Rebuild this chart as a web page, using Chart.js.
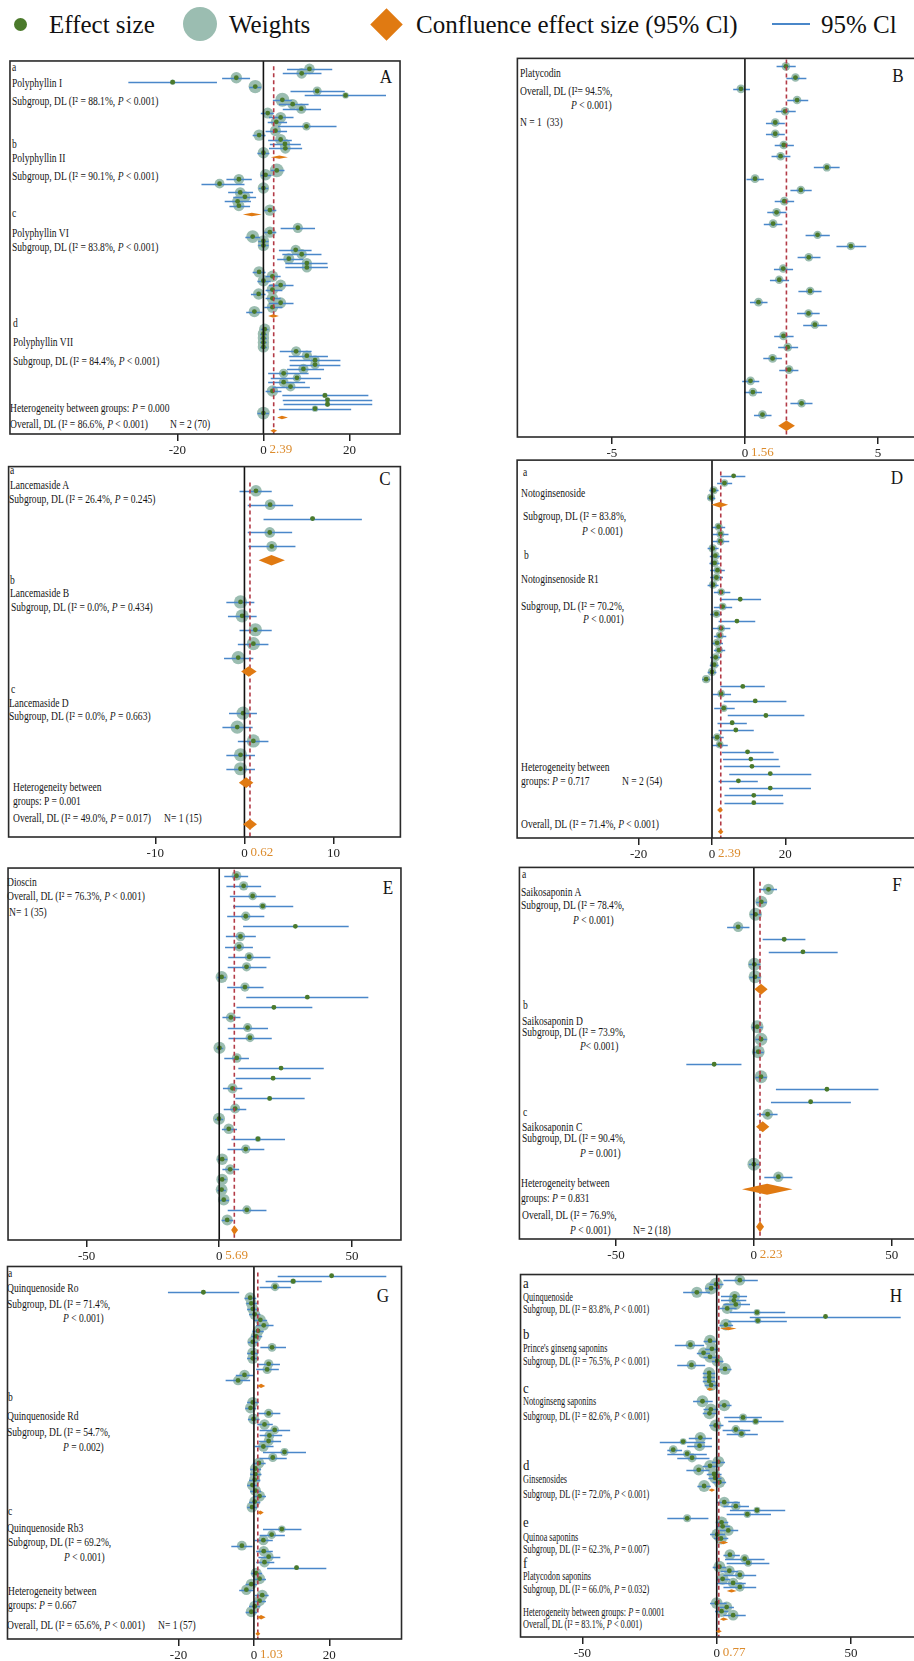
<!DOCTYPE html>
<html>
<head>
<meta charset="utf-8">
<script src="https://cdn.jsdelivr.net/npm/chart.js@4.4.0/dist/chart.umd.min.js"></script>
<style>
  html, body { margin: 0; padding: 0; background: #fff; overflow: hidden; }
  #page { position: relative; width: 914px; height: 1661px; overflow: hidden; background: #fff; }
  canvas.panel { position: absolute; }
  .t { position: absolute; font-family: 'Liberation Serif', 'Times New Roman', serif; font-size: 12.5px;
       line-height: 1; color: #151515; white-space: nowrap; transform-origin: 0 50%;
       transform: translateY(-50%) scaleX(0.765); }
  .t.h { transform: translateY(-50%) scaleX(0.66); }
  .t.hl { font-size: 15px; transform: translateY(-50%) scaleX(0.85); }
  .t.L { font-size: 19px; transform: translate(-50%, -50%) scaleX(0.9); transform-origin: 50% 50%; }
  .leg { position: absolute; font-family: 'Liberation Serif', 'Times New Roman', serif; font-size: 25px;
         line-height: 1; color: #111; white-space: nowrap; transform: translateY(-50%); }
  .sym { position: absolute; }
</style>
</head>
<body>
<div id="page"></div>
<script>
// ---------- Panel A: Polyphyllin I / II / VI / VII ----------
const A_groups = [20, 10, 20, 20];
const A_est = [10.7,8.9,-6.3,-21.1,-1.9,12.5,19.1,4.4,6.8,8.8,1.0,4.0,3.0,10.0,2.8,-1.0,4.0,5.0,5.1,0.0,
  3.1,0.5,-5.7,-10.2,0.0,-5.4,-4.3,-6.0,-5.7,1.5,
  8.0,1.5,-2.5,0.0,0.0,7.5,8.9,5.9,10.1,10.1,-1.0,2.1,0.0,4.0,2.1,-1.1,2.1,4.0,2.1,-2.1,
  0.3,0.0,0.0,0.0,0.0,7.6,10.1,12.0,12.0,9.3,4.7,7.8,4.7,6.3,2.1,14.3,14.9,14.9,12.0,0.0];
const A_lo = [5.5,4.5,-9.6,-31.4,-3.3,6.3,9.6,2.2,3.6,4.5,-0.6,1.3,1.0,3.4,0.5,-2.5,1.1,1.5,1.3,-1.4,
  1.7,-0.6,-8.6,-14.4,-1.1,-8.2,-7.0,-9.0,-7.9,0.2,
  4.0,0.2,-4.2,-1.2,-1.2,3.6,4.4,3.2,5.1,5.1,-2.5,0.5,-1.4,1.3,0.5,-2.9,0.5,1.3,0.2,-4.0,
  -0.6,-0.8,-0.8,-0.8,-0.8,3.8,5.9,6.1,6.1,5.5,1.1,1.7,1.1,2.1,0.5,4.4,4.5,4.7,3.6,-1.4];
const A_hi = [16.0,13.5,-3.1,-10.8,-0.5,18.9,28.5,6.6,10.5,13.4,2.4,7.0,5.5,17.0,5.5,0.5,6.6,8.7,9.0,1.4,
  4.9,1.9,-2.7,-4.4,1.1,-2.4,-1.7,-2.9,-3.1,3.0,
  12.0,3.0,-0.8,1.2,1.2,11.2,13.5,9.3,14.9,15.0,0.5,4.0,1.7,7.0,4.4,0.5,4.0,7.0,4.4,-0.2,
  1.2,0.8,0.8,0.8,0.8,11.2,15.0,17.9,17.9,14.1,10.5,13.4,9.7,10.8,4.2,24.4,25.3,25.3,20.4,1.3];
const A_w = [1.4,1.4,1.6,0.35,2.2,1.0,0.5,2.4,1.4,1.3,1.5,1.5,1.5,0.9,1.5,1.6,1.5,1.4,1.4,1.6,
  2.4,1.6,1.4,1.2,1.6,1.4,1.5,1.5,1.5,1.6,
  1.3,1.6,2.0,1.6,1.6,1.3,1.3,1.5,1.3,1.3,1.6,1.6,1.6,1.5,1.6,1.6,1.6,1.5,1.6,1.6,
  1.6,1.6,1.6,1.6,1.6,1.3,1.3,1.1,1.1,1.3,1.1,0.9,1.2,1.2,1.6,0.35,0.35,0.35,0.5,2.0];
const A_subEst = [3.7, -2.7, 2.3, 4.3];
const A_subLo = [1.7, -4.8, 1.1, 3.2];
const A_subHi = [5.7, -0.4, 3.6, 5.7];
const A_pooled = [2.39, 1.6, 3.2];
const A_ticks = [-20, 0, 20];

// ---------- Panel B: Platycodin ----------
const B_groups = [32];
const B_est = [1.54,1.90,-0.15,1.96,1.51,1.14,1.14,1.46,1.34,3.08,0.38,2.10,1.48,1.19,1.06,2.73,
  3.98,2.40,1.44,1.29,2.45,0.51,2.39,2.63,1.45,1.61,1.04,1.66,0.21,0.30,2.13,0.66];
const B_lo = [1.19,1.56,-0.44,1.59,1.16,0.79,0.79,1.12,1.00,2.59,0.06,1.71,1.12,0.84,0.71,2.28,
  3.44,1.98,1.09,0.94,2.01,0.19,1.96,2.19,1.10,1.25,0.69,1.29,-0.10,-0.03,1.71,0.34];
const B_hi = [1.91,2.31,0.19,2.38,1.91,1.50,1.50,1.84,1.71,3.56,0.71,2.51,1.85,1.56,1.41,3.19,
  4.56,2.84,1.81,1.66,2.88,0.85,2.81,3.09,1.83,2.00,1.39,2.01,0.54,0.64,2.54,1.00];
const B_w = [3.1,3.0,3.2,3.0,3.1,3.1,3.1,3.1,3.1,2.9,3.2,3.0,3.1,3.1,3.1,2.9,
  2.8,3.0,3.1,3.1,3.0,3.2,3.0,2.9,3.1,3.1,3.2,3.1,3.2,3.2,3.0,3.2];
const B_subEst = [], B_subLo = [], B_subHi = [];
const B_pooled = [1.56, 1.25, 1.88];
const B_ticks = [-5, 0, 5];

// ---------- Panel C: Lancemaside A / B / D ----------
const C_groups = [5, 5, 5];
const C_est = [1.29,2.88,7.64,2.84,3.06, -0.44,-0.26,1.22,1.00,-0.70, -0.15,-0.81,1.00,-0.44,-0.44];
const C_lo = [-0.55,0.37,2.14,0.37,0.44, -2.03,-1.85,-0.55,-0.74,-2.29, -1.73,-2.47,-0.74,-2.03,-2.03];
const C_hi = [3.06,5.46,13.17,5.35,5.72, 1.11,1.37,3.06,2.69,1.00, 1.40,0.92,2.69,1.18,1.18];
const C_w = [7,6,1.2,6,6, 9,9,9,9,9, 9,9,9,9,9];
const C_subEst = [3.03, 0.48, 0.18];
const C_subLo = [1.59, -0.37, -0.63];
const C_subHi = [4.54, 1.37, 1.00];
const C_pooled = [0.62, -0.16, 1.40];
const C_ticks = [-10, 0, 10];

// ---------- Panel D: Notoginsenoside / Notoginsenoside R1 ----------
const D_groups = [4, 39];
const D_est = [5.9,3.4,0.45,-0.27,
  1.8,2.3,2.3,0.2,0.9,0.7,1.5,1.2,0.3,2.5, 7.7,2.9,1.2,6.8,2.5,2.1,1.4,1.9,1.0,0.6,
  0.0,-1.6,8.4,2.5,11.8,3.2,14.7,5.5,6.5,1.4, 2.1,9.7,10.6,10.9,15.9,7.2,15.9,11.4,11.4];
const D_lo = [2.3,1.4,-0.7,-1.2,
  0.0,0.2,0.2,-1.2,-0.6,-0.7,-0.5,-0.5,-1.2,0.5, 2.1,0.5,-0.5,1.8,0.2,0.5,0.0,0.5,-0.5,-0.6,
  -1.2,-2.7,2.3,0.2,3.2,0.6,4.3,1.5,1.8,-0.2, 0.0,2.7,3.0,3.2,4.7,1.8,4.7,3.4,3.4];
const D_hi = [9.1,5.5,1.8,0.9,
  3.6,4.5,4.7,1.8,2.5,2.1,3.5,3.0,1.8,5.0, 13.4,5.5,2.7,11.8,5.0,3.9,3.0,3.6,2.5,1.8,
  1.2,-0.5,14.4,5.2,20.3,6.2,25.2,9.5,11.4,3.2, 4.3,16.8,18.2,18.6,27.1,12.5,27.0,19.4,19.5];
const D_w = [0.6,2.6,3.0,3.0,
  3.0,3.0,3.0,3.2,3.2,3.2,3.0,3.0,3.2,2.8, 0.6,2.8,3.2,0.6,2.8,3.0,3.2,3.0,3.2,3.2,
  3.2,3.2,0.6,2.8,0.5,2.6,0.4,1.0,0.8,3.0, 2.8,0.6,0.5,0.5,0.4,0.6,0.4,0.5,0.5];
const D_subEst = [2.1, 2.2];
const D_subLo = [-0.2, 1.4];
const D_subHi = [4.4, 3.0];
const D_pooled = [2.39, 1.6, 3.1];
const D_ticks = [-20, 0, 20];

// ---------- Panel E: Dioscin ----------
const E_groups = [35];
const E_est = [6.5,9.2,12.6,16.4,10.0,28.7,8.0,7.5,11.3,10.3,0.9,9.7,33.2,20.6,4.4,10.7,11.6,0.1,
  6.6,23.3,20.3,5.0,19.0,6.0,-0.1,3.6,14.6,10.0,1.1,4.1,1.1,0.9,1.7,10.4,3.0];
const E_lo = [1.9,2.7,4.0,5.2,3.0,9.0,2.5,2.2,3.4,3.2,-0.7,3.0,10.2,6.5,1.2,3.2,3.5,-1.2,
  1.9,7.2,6.2,1.4,6.1,1.7,-1.6,1.0,4.6,3.1,-0.6,1.2,-0.4,-0.7,0.0,3.2,0.9];
const E_hi = [10.9,15.8,21.3,27.9,17.0,48.8,13.8,12.7,19.3,17.8,2.5,16.7,56.2,35.1,8.0,18.4,19.8,1.5,
  11.2,39.4,34.5,8.7,32.2,10.2,1.5,6.7,24.8,17.0,3.0,7.5,2.7,2.5,3.7,17.8,5.2];
const E_w = [3.2,3.0,2.5,1.8,3.0,0.5,3.2,3.3,2.8,2.9,5.0,2.9,0.4,0.8,3.5,2.8,2.7,5.0,
  3.2,0.6,0.7,3.5,0.7,3.4,5.0,3.8,1.2,2.9,4.6,3.6,4.6,4.8,4.6,2.8,4.2];
const E_subEst = [], E_subLo = [], E_subHi = [];
const E_pooled = [5.69, 4.5, 7.1];
const E_ticks = [-50, 0, 50];

// ---------- Panel F: Saikosaponin A / D / C ----------
const F_groups = [8, 8, 2];
const F_est = [5.3,2.7,0.6,-5.7,11.0,17.8,0.2,0.4, 1.2,2.6,1.6,-14.4,2.6,26.5,20.6,5.0, 0.0,8.9];
const F_lo = [2.0,0.8,-1.3,-9.7,3.2,5.4,-1.8,-1.6, -0.7,0.6,-0.4,-24.5,0.6,8.0,6.2,1.1, -1.8,3.8];
const F_hi = [8.4,4.7,2.6,-1.6,18.7,30.4,2.3,2.4, 3.2,4.7,3.6,-4.5,4.7,45.2,35.2,8.6, 1.8,14.0];
const F_w = [6.5,7.5,8.5,5.5,1.2,0.8,8.5,8.5, 8.5,8.5,8.5,1.0,8.5,0.6,0.8,6.0, 8.5,5.5];
const F_subEst = [2.6, 3.2, 4.8];
const F_subLo = [0.2, 0.8, -4.3];
const F_subHi = [5.0, 5.6, 14.0];
const F_pooled = [2.23, 0.8, 3.7];
const F_ticks = [-50, 0, 50];

// ---------- Panel G: Quinquenoside Ro / Rd / Rb3 ----------
const G_groups = [20, 20, 16];
const G_est = [20.6,10.4,5.6,-13.4,-1.0,-0.7,-0.3,0.2,1.7,2.6,1.1,0.6,-0.3,4.8,-0.3,-0.3,3.9,3.5,-2.5,-4.2,
  -0.3,-0.9,3.9,-0.1,2.8,5.5,4.1,3.9,2.5,8.1,5.0,1.3,0.4,0.4,0.2,-0.4,0.4,1.5,0.2,-0.5,
  7.4,4.7,2.5,-3.2,2.6,3.9,2.8,11.3,0.6,1.5,-0.7,-2.0,2.2,1.5,0.2,-0.7];
const G_lo = [6.3,3.1,1.5,-22.8,-2.5,-2.0,-1.8,-1.3,0.0,0.6,-0.4,-0.7,-1.6,1.7,-1.8,-1.8,0.9,0.6,-4.8,-7.5,
  -1.8,-2.3,0.9,-1.6,0.9,1.5,1.5,1.3,0.2,2.4,1.5,-0.3,-1.0,-1.0,-1.3,-1.8,-1.0,-0.1,-1.3,-1.8,
  2.4,1.5,0.2,-6.0,0.6,1.2,0.6,3.5,-0.7,-0.1,-2.2,-3.9,0.3,-0.1,-1.3,-2.2];
const G_hi = [35.1,18.0,9.8,-3.9,0.6,0.8,1.3,1.7,3.5,5.2,2.6,2.2,1.1,8.5,1.1,1.3,6.9,6.6,-0.1,-1.0,
  1.3,0.6,7.0,1.5,5.0,9.6,7.5,7.2,5.2,13.8,8.7,3.1,1.9,2.0,1.7,1.1,1.9,3.2,1.7,0.9,
  12.6,8.2,5.0,-0.4,5.0,7.0,5.4,19.2,2.2,3.2,0.8,-0.1,3.9,3.2,1.7,0.8];
const G_w = [0.3,0.6,1.4,0.4,2.2,2.2,2.2,2.2,2.2,2.0,2.2,2.2,2.2,1.4,2.2,2.2,1.6,1.6,2.0,1.8,
  2.2,2.2,1.6,2.2,2.0,1.4,1.8,1.8,2.0,1.2,1.5,2.2,2.2,2.2,2.2,2.2,2.2,2.2,2.2,2.2,
  1.0,1.4,2.0,1.8,2.0,1.8,2.0,0.4,2.2,2.2,2.2,2.0,2.2,2.2,2.2,2.2];
const G_subEst = [1.9, 1.7, 1.9];
const G_subLo = [0.8, 0.9, 0.8];
const G_subHi = [3.0, 2.6, 3.1];
const G_pooled = [1.03, 0.4, 1.7];
const G_ticks = [-20, 0, 20];

// ---------- Panel H: saponin classes a-f ----------
const H_groups = [12, 12, 22, 10, 9, 4];
const H_est = [8.6,-0.2,-2.1,-7.4,6.7,6.4,7.1,3.9,15.0,40.5,15.3,3.4,
  -2.5,-9.8,-1.8,-4.9,-2.5,0.2,-9.4,3.1,-2.8,-2.8,-2.8,-2.1,
  -5.3,2.8,-2.2,-2.7,9.8,14.5,-0.4,7.1,9.2,-6.1,-12.5,-6.4,-16.2,-11.0,-9.2,0.6,-2.5,-6.7,-1.0,-0.6,1.0,-4.7,
  2.8,7.1,15.0,11.4,-11.0,1.8,2.2,4.3,0.2,1.6,
  4.9,10.4,11.7,1.0,4.7,8.6,2.2,6.1,8.6,
  0.0,3.7,1.8,6.1];
const H_lo = [2.5,-2.7,-4.3,-12.5,1.6,1.6,2.5,1.0,4.9,12.3,4.3,1.0,
  -4.9,-15.6,-4.3,-7.4,-4.9,-1.8,-14.7,0.6,-5.2,-5.2,-5.2,-4.5,
  -8.8,0.6,-4.9,-5.2,2.8,4.3,-2.8,2.2,3.7,-10.4,-21.2,-11.0,-18.4,-18.4,-14.7,-1.8,-5.2,-11.3,-3.7,-3.1,-1.5,-7.2,
  0.0,2.5,4.9,3.7,-18.4,0.0,0.0,1.2,-2.5,-1.0,
  2.5,3.1,3.7,-1.5,1.5,2.5,0.0,0.0,2.5,
  -2.5,1.2,-0.6,2.5];
const H_hi = [15.3,2.5,0.6,-2.5,11.3,11.0,12.4,7.4,25.5,68.5,26.1,6.1,
  0.0,-4.7,1.0,-2.5,0.0,2.5,-4.3,5.5,-0.6,-0.6,-0.6,0.6,
  -1.5,5.5,0.6,0.0,16.8,24.9,2.5,12.5,15.3,-1.8,-4.3,-1.8,-12.9,-3.7,-2.7,3.1,0.6,-2.7,1.8,1.8,3.5,-2.2,
  8.6,12.0,25.5,20.2,-3.1,4.3,4.9,8.0,3.1,4.3,
  8.6,17.8,19.6,3.5,8.0,14.7,4.9,10.8,14.7,
  3.7,6.4,4.3,10.8];
const H_w = [1.5,2.2,2.0,1.6,1.5,1.5,1.5,1.6,0.6,0.15,0.6,1.8,
  1.8,1.2,1.8,1.6,1.8,1.8,1.2,1.8,1.8,1.8,1.8,1.8,
  1.8,1.8,1.8,1.8,0.8,0.6,1.8,1.0,0.9,1.6,0.6,1.6,1.0,0.8,1.1,1.8,1.8,1.6,1.8,1.8,1.8,1.8,
  1.5,1.2,0.6,0.7,0.8,1.8,1.8,1.5,1.8,1.8,
  1.5,1.0,0.8,1.8,1.5,1.2,1.8,1.4,1.2,
  1.8,1.6,1.8,1.5];
const H_subEst = [4.3, -2.7, -1.8, 2.5, 5.5, 2.5];
const H_subLo = [1.2, -3.7, -3.1, 0.6, 3.7, 1.2];
const H_subHi = [7.4, -1.2, -0.6, 4.3, 7.4, 4.3];
const H_pooled = [0.77, -0.3, 1.9];
const H_ticks = [-50, 0, 50];

// ---------- colours ----------
const COL = {
  dot: '#4b7a2b', weight: '#9bbdb1', ci: '#4a87c9', diamond: '#e07a12',
  zero: '#111', pooled: '#b23a46', box: '#2a2a2a', tick: '#222', pooledText: '#dc8b2c'
};

// ---------- panel geometry: box [left, top, right, bottom], axis ranges, marker scale ----------
const GEOM = {
  A: { box: [7, 58, 403, 434],   x: [-58.92, 31.76], y: [-1.80, 82.74], k: 4.5,  dh: 0.38 },
  B: { box: [517, 58, 918, 437], x: [-8.55, 6.49],   y: [-0.71, 33.00], k: 2.45, dh: 0.46 },
  C: { box: [6, 464, 403, 837],  x: [-26.45, 17.49], y: [-1.74, 24.91], k: 2.2,  dh: 0.38 },
  D: { box: [517, 460, 918, 838],x: [-53.18, 56.18], y: [-2.16, 49.87], k: 2.3,  dh: 0.38 },
  E: { box: [6, 866, 403, 1240], x: [-79.6, 68.5],   y: [-0.76, 35.98], k: 2.7,  dh: 0.48 },
  F: { box: [517, 865, 918, 1239], x: [-85.05, 58.67], y: [-1.75, 27.98], k: 2.2, dh: 0.44 },
  G: { box: [6, 1265, 403, 1639], x: [-65.34, 39.13], y: [-1.68, 65.95], k: 3.7, dh: 0.40 },
  H: { box: [518, 1272, 918, 1637], x: [-73.05, 74.0], y: [-1.40, 88.41], k: 4.4, dh: 0.40 }
};

const PANELS = [
  { id: 'A', groups: A_groups, est: A_est, lo: A_lo, hi: A_hi, w: A_w, subEst: A_subEst, subLo: A_subLo, subHi: A_subHi, pooled: A_pooled, ticks: A_ticks },
  { id: 'B', groups: B_groups, est: B_est, lo: B_lo, hi: B_hi, w: B_w, subEst: B_subEst, subLo: B_subLo, subHi: B_subHi, pooled: B_pooled, ticks: B_ticks },
  { id: 'C', groups: C_groups, est: C_est, lo: C_lo, hi: C_hi, w: C_w, subEst: C_subEst, subLo: C_subLo, subHi: C_subHi, pooled: C_pooled, ticks: C_ticks },
  { id: 'D', groups: D_groups, est: D_est, lo: D_lo, hi: D_hi, w: D_w, subEst: D_subEst, subLo: D_subLo, subHi: D_subHi, pooled: D_pooled, ticks: D_ticks },
  { id: 'E', groups: E_groups, est: E_est, lo: E_lo, hi: E_hi, w: E_w, subEst: E_subEst, subLo: E_subLo, subHi: E_subHi, pooled: E_pooled, ticks: E_ticks },
  { id: 'F', groups: F_groups, est: F_est, lo: F_lo, hi: F_hi, w: F_w, subEst: F_subEst, subLo: F_subLo, subHi: F_subHi, pooled: F_pooled, ticks: F_ticks },
  { id: 'G', groups: G_groups, est: G_est, lo: G_lo, hi: G_hi, w: G_w, subEst: G_subEst, subLo: G_subLo, subHi: G_subHi, pooled: G_pooled, ticks: G_ticks },
  { id: 'H', groups: H_groups, est: H_est, lo: H_lo, hi: H_hi, w: H_w, subEst: H_subEst, subLo: H_subLo, subHi: H_subHi, pooled: H_pooled, ticks: H_ticks }
];

// ---------- text annotations [html, x, y, class] ----------
const P = '<i>P</i>';
const NOTES = [
  // A
  ['a', 12, 66.7], ['Polyphyllin I', 12, 83.3], ['Subgroup, DL (I² = 88.1%, ' + P + ' &lt; 0.001)', 12, 101],
  ['b', 12, 144], ['Polyphyllin II', 12, 158.3], ['Subgroup, DL (I² = 90.1%, ' + P + ' &lt; 0.001)', 12, 176],
  ['c', 12, 213.3], ['Polyphyllin VI', 12, 232.7], ['Subgroup, DL (I² = 83.8%, ' + P + ' &lt; 0.001)', 12, 247.3],
  ['d', 13, 322.7], ['Polyphyllin VII', 13, 341.7], ['Subgroup, DL (I² = 84.4%, ' + P + ' &lt; 0.001)', 13, 360.7],
  ['Heterogeneity between groups: ' + P + ' = 0.000', 10, 407.7],
  ['Overall, DL (I² = 86.6%, ' + P + ' &lt; 0.001)', 10, 424.3], ['N = 2 (70)', 170, 424.3],
  ['A', 386, 76, 'L'],
  // B
  ['Platycodin', 520, 72.7], ['Overall, DL (I²= 94.5%,', 520, 91], [P + ' &lt; 0.001)', 571, 105],
  ['N = 1&nbsp; (33)', 520, 121.7], ['B', 898, 75, 'L'],
  // C
  ['a', 10, 470], ['Lancemaside A', 10, 485], ['Subgroup, DL (I² = 26.4%, ' + P + ' = 0.245)', 9, 499],
  ['b', 10, 580], ['Lancemaside B', 10, 593.3], ['Subgroup, DL (I² = 0.0%, ' + P + ' = 0.434)', 11, 606.7],
  ['c', 11, 689.3], ['Lancemaside D', 9, 703.3], ['Subgroup, DL (I² = 0.0%, ' + P + ' = 0.663)', 9, 716],
  ['Heterogeneity between', 13, 786.7], ['groups: P = 0.001', 13, 801],
  ['Overall, DL (I² = 49.0%, ' + P + ' = 0.017)', 13, 817.7], ['N= 1 (15)', 164, 817.7],
  ['C', 385, 477.7, 'L'],
  // D
  ['a', 523, 471.7], ['Notoginsenoside', 521, 493.3], ['Subgroup, DL (I² = 83.8%,', 523, 516],
  [P + ' &lt; 0.001)', 581.7, 530.7], ['b', 524, 555], ['Notoginsenoside R1', 521, 579],
  ['Subgroup, DL (I² = 70.2%,', 521, 605.7], [P + ' &lt; 0.001)', 582.7, 619.3],
  ['Heterogeneity between', 521, 766.7], ['groups: ' + P + ' = 0.717', 521, 781], ['N = 2 (54)', 621.7, 781],
  ['Overall, DL (I² = 71.4%, ' + P + ' &lt; 0.001)', 521, 824.3], ['D', 896.7, 476.7, 'L'],
  // E
  ['Dioscin', 7.3, 882.3], ['Overall, DL (I² = 76.3%, ' + P + ' &lt; 0.001)', 7.3, 895.7],
  ['N= 1 (35)', 9.3, 911.7], ['E', 387.7, 886.7, 'L'],
  // F
  ['a', 521.7, 874], ['Saikosaponin A', 521, 891.7], ['Subgroup, DL (I² = 78.4%,', 521, 905],
  [P + ' &lt; 0.001)', 573.3, 920], ['b', 523, 1005], ['Saikosaponin D', 521.7, 1020.7],
  ['Subgroup, DL (I² = 73.9%,', 522, 1031.7], [P + '&lt; 0.001)', 580, 1046],
  ['c', 523, 1111.7], ['Saikosaponin C', 522, 1126.7], ['Subgroup, DL (I² = 90.4%,', 522, 1138.3],
  [P + ' = 0.001)', 580, 1152.7], ['Heterogeneity between', 520.7, 1183.3],
  ['groups: ' + P + ' = 0.831', 520.7, 1197.7], ['Overall, DL (I² = 76.9%,', 521.7, 1215],
  [P + ' &lt; 0.001)', 570, 1230], ['N= 2 (18)', 633.3, 1230], ['F', 897.3, 884.3, 'L'],
  // G
  ['a', 8.3, 1273.3], ['Quinquenoside Ro', 7, 1288.3], ['Subgroup, DL (I² = 71.4%,', 7, 1304],
  [P + ' &lt; 0.001)', 63.3, 1318.3], ['b', 8.3, 1396.7], ['Quinquenoside Rd', 7, 1416],
  ['Subgroup, DL (I² = 54.7%,', 7, 1432.3], [P + ' = 0.002)', 63.3, 1446.7],
  ['c', 8.3, 1511], ['Quinquenoside Rb3', 7, 1528.3], ['Subgroup, DL (I² = 69.2%,', 7.7, 1542.3],
  [P + ' &lt; 0.001)', 64, 1556.7], ['Heterogeneity between', 8, 1591], ['groups: ' + P + ' = 0.667', 8, 1605],
  ['Overall, DL (I² = 65.6%, ' + P + ' &lt; 0.001)', 7, 1625], ['N= 1 (57)', 158.3, 1625],
  ['G', 382.7, 1295, 'L'],
  // H
  ['a', 523.3, 1282.7, 'hl'], ['Quinquenoside', 523.3, 1296.7, 'h'],
  ['Subgroup, DL (I² = 83.8%, ' + P + ' &lt; 0.001)', 523.3, 1309, 'h'],
  ['b', 523.3, 1334.3, 'hl'], ["Prince's ginseng saponins", 523.3, 1348.3, 'h'],
  ['Subgroup, DL (I² = 76.5%, ' + P + ' &lt; 0.001)', 523.3, 1361, 'h'],
  ['c', 523.3, 1388.3, 'hl'], ['Notoginseng saponins', 523.3, 1401, 'h'],
  ['Subgroup, DL (I² = 82.6%, ' + P + ' &lt; 0.001)', 523.3, 1416, 'h'],
  ['d', 523.3, 1465, 'hl'], ['Ginsenosides', 523.3, 1479.3, 'h'],
  ['Subgroup, DL (I² = 72.0%, ' + P + ' &lt; 0.001)', 523.3, 1494, 'h'],
  ['e', 523.3, 1521.7, 'hl'], ['Quinoa saponins', 523.3, 1536.7, 'h'],
  ['Subgroup, DL (I² = 62.3%, ' + P + ' = 0.007)', 523.3, 1549.3, 'h'],
  ['f', 523.3, 1562.7, 'hl'], ['Platycodon saponins', 523.3, 1576, 'h'],
  ['Subgroup, DL (I² = 66.0%, ' + P + ' = 0.032)', 523.3, 1589.3, 'h'],
  ['Heterogeneity between groups: ' + P + ' = 0.0001', 523.3, 1611.7, 'h'],
  ['Overall, DL (I² = 83.1%, ' + P + ' &lt; 0.001)', 523.3, 1624, 'h'],
  ['H', 895.7, 1295, 'L']
];

const page = document.getElementById('page');

// ---------- legend ----------
function addSym(css) {
  const d = document.createElement('div');
  d.className = 'sym';
  Object.assign(d.style, css);
  page.appendChild(d);
}
function addLeg(text, x, y) {
  const d = document.createElement('div');
  d.className = 'leg';
  d.textContent = text;
  d.style.left = x + 'px';
  d.style.top = y + 'px';
  page.appendChild(d);
}
const LY = 24;
addSym({ left: (20 - 6.5) + 'px', top: (LY - 6.5) + 'px', width: '13px', height: '13px', borderRadius: '50%', background: COL.dot });
addLeg('Effect size', 49, LY);
addSym({ left: (200 - 17) + 'px', top: (LY - 17) + 'px', width: '34px', height: '34px', borderRadius: '50%', background: COL.weight });
addLeg('Weights', 229, LY);
addSym({ left: (386 - 11.5) + 'px', top: (LY - 11.5) + 'px', width: '23px', height: '23px', background: COL.diamond, transform: 'rotate(45deg)' });
addLeg('Confluence effect size (95% Cl)', 416, LY);
addSym({ left: '772px', top: (LY - 0.75) + 'px', width: '38px', height: '1.5px', background: COL.ci });
addLeg('95% Cl', 821, LY);

// ---------- annotations ----------
NOTES.forEach(([html, x, y, cls]) => {
  const d = document.createElement('div');
  d.className = 't' + (cls ? ' ' + cls : '');
  d.innerHTML = html;
  d.style.left = x + 'px';
  d.style.top = y + 'px';
  page.appendChild(d);
});

// ---------- row layout of a forest plot ----------
function layoutRows(groupSizes) {
  const study = [], sub = [];
  let r = 0;
  const multi = groupSizes.length > 1;
  groupSizes.forEach(n => {
    for (let i = 0; i < n; i++) study.push(r++);
    if (multi) { sub.push(r); r += 3; }
  });
  return { study, sub, overall: r };
}

function forestPlugin(spec, rows, g) {
  const diamond = (ctx, xs, ys, est, lo, hi, row) => {
    ctx.beginPath();
    ctx.moveTo(xs.getPixelForValue(lo), ys.getPixelForValue(row));
    ctx.lineTo(xs.getPixelForValue(est), ys.getPixelForValue(row - g.dh));
    ctx.lineTo(xs.getPixelForValue(hi), ys.getPixelForValue(row));
    ctx.lineTo(xs.getPixelForValue(est), ys.getPixelForValue(row + g.dh));
    ctx.closePath();
    ctx.fill();
  };
  return {
    id: 'forest' + spec.id,
    afterDatasetDraw(chart, args) {
      if (args.index !== 0) return;
      // confidence intervals, between the weight circles and the effect dots
      const { ctx, chartArea: a } = chart;
      const xs = chart.scales.x, ys = chart.scales.y;
      ctx.save();
      ctx.beginPath(); ctx.rect(a.left, a.top, a.width, a.height); ctx.clip();
      ctx.strokeStyle = COL.ci; ctx.lineWidth = 1.5;
      rows.study.forEach((r, i) => {
        const y = Math.round(ys.getPixelForValue(r)) + 0.5;
        ctx.beginPath();
        ctx.moveTo(xs.getPixelForValue(spec.lo[i]), y);
        ctx.lineTo(xs.getPixelForValue(spec.hi[i]), y);
        ctx.stroke();
      });
      ctx.restore();
    },
    afterDatasetsDraw(chart) {
      const { ctx, chartArea: a } = chart;
      const xs = chart.scales.x, ys = chart.scales.y;
      ctx.save();
      ctx.beginPath(); ctx.rect(a.left, a.top, a.width, a.height); ctx.clip();
      // no-effect line
      const x0 = xs.getPixelForValue(0);
      ctx.strokeStyle = COL.zero; ctx.lineWidth = 1.6;
      ctx.beginPath(); ctx.moveTo(x0, a.top); ctx.lineTo(x0, a.bottom); ctx.stroke();
      // pooled estimate line
      const xp = xs.getPixelForValue(spec.pooled[0]);
      ctx.strokeStyle = COL.pooled; ctx.lineWidth = 1.6; ctx.setLineDash([4, 3]);
      ctx.beginPath(); ctx.moveTo(xp, ys.getPixelForValue(-0.6)); ctx.lineTo(xp, a.bottom); ctx.stroke();
      ctx.setLineDash([]);
      // subgroup and overall diamonds
      ctx.fillStyle = COL.diamond;
      rows.sub.forEach((r, i) => diamond(ctx, xs, ys, spec.subEst[i], spec.subLo[i], spec.subHi[i], r));
      diamond(ctx, xs, ys, spec.pooled[0], spec.pooled[1], spec.pooled[2], rows.overall);
      ctx.restore();
    },
    afterDraw(chart) {
      const { ctx, chartArea: a } = chart;
      const xs = chart.scales.x;
      ctx.save();
      ctx.strokeStyle = COL.box; ctx.lineWidth = 1.6;
      ctx.strokeRect(a.left, a.top, a.width, a.height);
      // pooled value printed beside the zero tick
      ctx.font = "13px 'Liberation Serif', serif";
      ctx.fillStyle = COL.pooledText;
      ctx.textAlign = 'left'; ctx.textBaseline = 'top';
      ctx.fillText(spec.pooled[0].toFixed(2), xs.getPixelForValue(0) + 6, a.bottom + 9);
      ctx.restore();
    }
  };
}

function buildPanel(spec) {
  const g = GEOM[spec.id];
  const [L, T, R, B] = g.box;
  const pad = 4, axisH = 28;
  const cv = document.createElement('canvas');
  cv.className = 'panel';
  cv.width = R - L + 2 * pad;
  cv.height = B - T + pad + axisH;
  cv.style.left = (L - pad) + 'px';
  cv.style.top = (T - pad) + 'px';
  cv.style.width = cv.width + 'px';
  cv.style.height = cv.height + 'px';
  page.appendChild(cv);

  const rows = layoutRows(spec.groups);
  const pts = spec.est.map((v, i) => ({ x: v, y: rows.study[i] }));

  new Chart(cv, {
    type: 'scatter',
    data: {
      datasets: [
        { label: 'Weights', data: pts, order: 2, backgroundColor: COL.weight, borderWidth: 0,
          pointRadius: spec.w.map(w => g.k * Math.sqrt(w)), pointHoverRadius: 0 },
        { label: 'Effect size', data: pts, order: 1, backgroundColor: COL.dot, borderWidth: 0,
          pointRadius: 2.4, pointHoverRadius: 0 }
      ]
    },
    options: {
      responsive: false, animation: false, devicePixelRatio: 1,
      events: [],
      layout: { padding: { left: pad, right: pad, top: pad, bottom: 0 } },
      plugins: { legend: { display: false }, tooltip: { enabled: false } },
      scales: {
        x: {
          type: 'linear', position: 'bottom', min: g.x[0], max: g.x[1],
          afterFit: s => { s.height = axisH; },
          afterBuildTicks: s => { s.ticks = spec.ticks.map(v => ({ value: v })); },
          border: { display: false },
          grid: { drawOnChartArea: false, drawTicks: true, tickLength: 7, color: COL.tick, lineWidth: 1.5 },
          ticks: { autoSkip: false, maxRotation: 0, padding: 2, color: COL.tick,
                   font: { family: "'Liberation Serif', serif", size: 13 },
                   callback: v => String(v) }
        },
        y: { type: 'linear', min: g.y[0], max: g.y[1], reverse: true, display: false }
      }
    },
    plugins: [forestPlugin(spec, rows, g)]
  });
}

PANELS.forEach(buildPanel);
</script>
</body>
</html>
